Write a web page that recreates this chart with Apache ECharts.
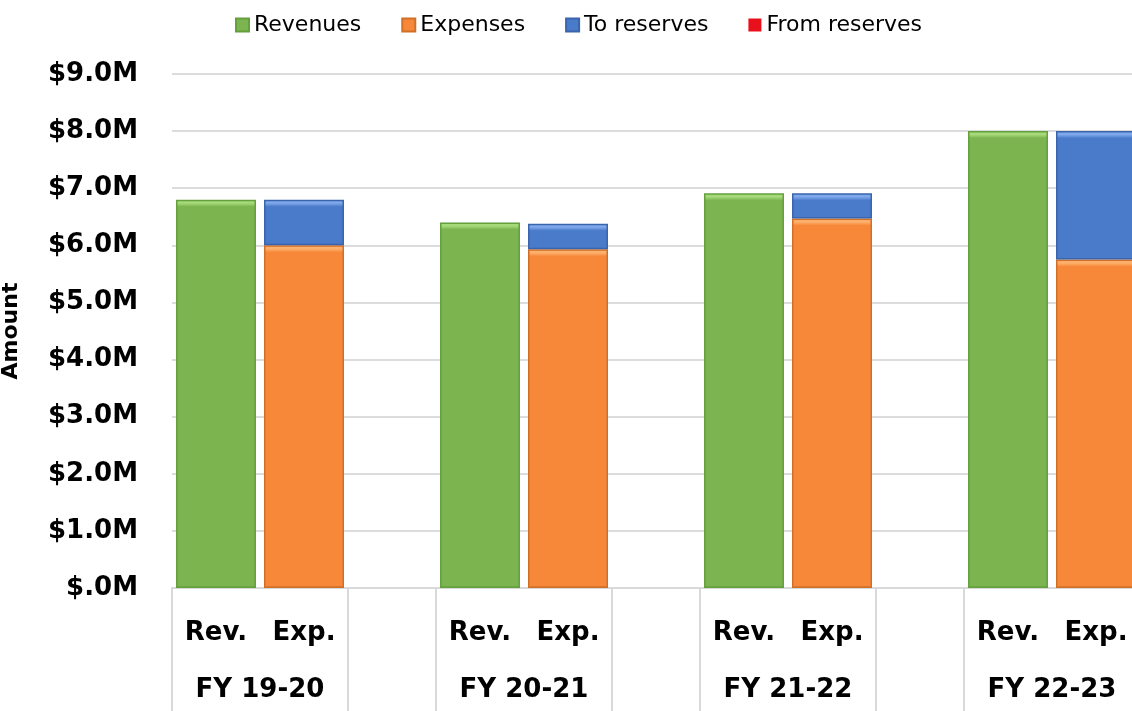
<!DOCTYPE html>
<html>
<head>
<meta charset="utf-8">
<script src="https://cdn.jsdelivr.net/npm/echarts@6/dist/echarts.min.js"></script>
<style>
html,body{margin:0;padding:0;background:#fff;}
#main{width:1132px;height:711px;}
</style>
</head>
<body>
<div id="main"></div>
<script>
// ---- data ----
const fiscalYears = ['FY 19-20', 'FY 20-21', 'FY 21-22', 'FY 22-23'];
const subLabels = ['Rev.', 'Exp.'];
const revenues = [6.80, 6.40, 6.91, 8.00];
const expenses = [6.00, 5.93, 6.47, 5.75];
const toReserves = [0.80, 0.45, 0.44, 2.25];
const fromReserves = [0, 0, 0, 0];
const yTicks = [0, 1, 2, 3, 4, 5, 6, 7, 8, 9];

// ---- build category layout: Rev., Exp., blank, ... ----
const cats = [];
const revData = [], expData = [], toData = [], fromData = [];
fiscalYears.forEach((fy, i) => {
  cats.push(subLabels[0]); revData.push(revenues[i]); expData.push(null); toData.push(null); fromData.push(fromReserves[i]);
  cats.push(subLabels[1]); revData.push(null); expData.push(expenses[i]); toData.push(toReserves[i]); fromData.push(null);
  if (i < fiscalYears.length - 1) {
    cats.push(''); revData.push(null); expData.push(null); toData.push(null); fromData.push(null);
  }
});
// boundary axis (points on category boundaries)
const fyAxis = [];
const fyTickIdx = new Set();
for (let b = 0; b <= cats.length; b++) fyAxis.push('');
fiscalYears.forEach((fy, i) => {
  fyAxis[3 * i + 1] = fy;
  fyTickIdx.add(3 * i); fyTickIdx.add(3 * i + 2);
});

const GRID_H = 514;
const pxPerUnit = GRID_H / (yTicks[yTicks.length - 1] - yTicks[0]);
// bevel-like fill: light band at the top of each bar
function bevelFill(light, base, dark) {
  return function (params) {
    const h = Math.max(1, Math.abs(params.value || 0) * pxPerUnit);
    const b = Math.min(0.45, 7 / h);
    return {
      type: 'linear', x: 0, y: 0, x2: 0, y2: 1,
      colorStops: [
        { offset: 0, color: light },
        { offset: b * 0.5, color: light },
        { offset: b, color: base },
        { offset: Math.max(b, 1 - 2 / h), color: base },
        { offset: 1, color: dark }
      ]
    };
  };
}

const chart = echarts.init(document.getElementById('main'), null, { renderer: 'canvas' });
const boldFont = 'DejaVu Sans';
chart.setOption({
  animation: false,
  backgroundColor: '#ffffff',
  color: ['#7cb450', '#f7883a', '#4a7bcb', '#e8101a'],
  legend: {
    left: 230, top: 9,
    itemWidth: 13, itemHeight: 13, itemGap: 40,
    icon: 'rect',
    textStyle: { fontFamily: 'DejaVu Sans', fontSize: 22, color: '#000' },
    data: ['Revenues', 'Expenses', 'To reserves', 'From reserves']
  },
  grid: { left: 172, top: 74, width: 968, height: GRID_H, containLabel: false, outerBoundsMode: 'none' },
  xAxis: [
    {
      type: 'category', position: 'bottom', data: cats,
      axisLine: { show: true, lineStyle: { color: '#d9d9d9', width: 2 } },
      axisTick: { show: false },
      axisLabel: { interval: 0, margin: 29, fontFamily: boldFont, fontWeight: 'bold', fontSize: 26, color: '#000', lineHeight: 32 },
      splitLine: { show: false }
    },
    {
      type: 'category', position: 'bottom', data: fyAxis, boundaryGap: false,
      axisLine: { show: false },
      axisTick: { show: true, length: 125, interval: (idx) => fyTickIdx.has(idx), lineStyle: { color: '#d9d9d9', width: 2 } },
      axisLabel: { interval: 0, margin: 86, fontFamily: boldFont, fontWeight: 'bold', fontSize: 26, color: '#000', lineHeight: 32 },
      splitLine: { show: false }
    }
  ],
  yAxis: {
    type: 'value', min: yTicks[0], max: yTicks[yTicks.length - 1], interval: 1,
    name: 'Amount', nameLocation: 'middle', nameRotate: 90, nameGap: 150,
    nameTextStyle: { fontFamily: boldFont, fontWeight: 'bold', fontSize: 22, color: '#000' },
    axisLine: { show: false }, axisTick: { show: false },
    axisLabel: {
      margin: 34, fontFamily: boldFont, fontWeight: 'bold', fontSize: 26, color: '#000',
      formatter: (v) => v === 0 ? '$.0M' : '$' + v.toFixed(1) + 'M'
    },
    splitLine: { lineStyle: { color: '#dcdcdc', width: 2 } }
  },
  series: [
    { name: 'Revenues', type: 'bar', stack: 'all', data: revData, barWidth: 80,
      itemStyle: { color: bevelFill('#a6d97a', '#7cb450', '#5a9436'), borderColor: '#64a03e', borderWidth: 1.5 } },
    { name: 'Expenses', type: 'bar', stack: 'all', data: expData, barWidth: 80,
      itemStyle: { color: bevelFill('#fdb06c', '#f7883a', '#c9661f'), borderColor: '#d06f28', borderWidth: 1.5 } },
    { name: 'To reserves', type: 'bar', stack: 'all', data: toData, barWidth: 80,
      itemStyle: { color: bevelFill('#7fa8ea', '#4a7bcb', '#30589a'), borderColor: '#3a65ad', borderWidth: 1.5 } },
    { name: 'From reserves', type: 'bar', stack: 'all', data: fromData, barWidth: 80,
      itemStyle: { color: bevelFill('#ff6060', '#e8101a', '#b00a12'), borderWidth: 0 } }
  ]
});
</script>
</body>
</html>
